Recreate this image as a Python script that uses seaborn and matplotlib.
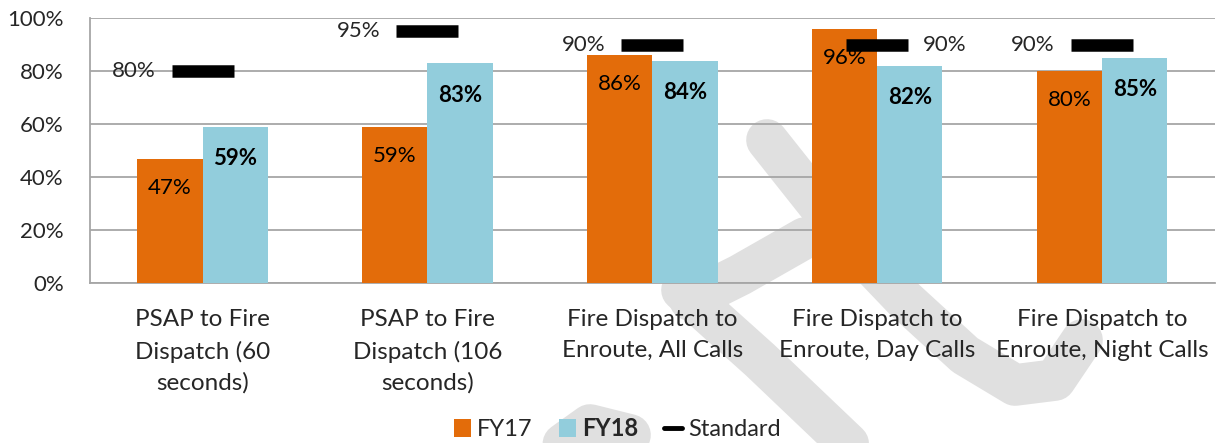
import matplotlib
matplotlib.use("Agg")
import matplotlib.pyplot as plt
import seaborn as sns
import pandas as pd
from matplotlib.patches import Patch
from matplotlib.lines import Line2D

categories = ["PSAP to Fire\nDispatch (60\nseconds)",
              "PSAP to Fire\nDispatch (106\nseconds)",
              "Fire Dispatch to\nEnroute, All Calls",
              "Fire Dispatch to\nEnroute, Day Calls",
              "Fire Dispatch to\nEnroute, Night Calls"]
fy17 = [47, 59, 86, 96, 80]
fy18 = [59, 83, 84, 82, 85]
standard = [80, 95, 90, 90, 90]
std_label_side = ["left", "left", "left", "right", "left"]
y_ticks = [0, 20, 40, 60, 80, 100]

ORANGE = "#E36C0A"
BLUE = "#92CDDC"
GRID = "#A6A6A6"
WATERMARK = "#E0E0E0"

sns.set_style("white")
plt.rcParams["font.family"] = ["Lato", "DejaVu Sans"]

df = pd.DataFrame({
    "cat": categories * 2,
    "val": fy17 + fy18,
    "series": ["FY17"] * 5 + ["FY18"] * 5,
})

W, H = 1217, 443
fig = plt.figure(figsize=(W / 100, H / 100), dpi=100)

# faint background watermark (decorative), in figure pixel space
def fpath(pts):
    return [p[0] / W for p in pts], [1 - p[1] / H for p in pts]

wm_strokes = [
    [(767, 140), (840, 232), (905, 300), (965, 355), (1015, 385), (1055, 380), (1082, 340)],
    [(805, 238), (740, 275), (690, 300)],
    [(682, 290), (760, 360), (865, 460)],
    [(555, 450), (590, 425), (630, 435)],
]
for s in wm_strokes:
    xs_, ys_ = fpath(s)
    fig.add_artist(Line2D(xs_, ys_, transform=fig.transFigure, color=WATERMARK,
                          linewidth=30, solid_capstyle="round",
                          solid_joinstyle="round", zorder=-10))

ax = fig.add_axes([0.074, 0.361, 0.924, 0.598])
ax.patch.set_alpha(0)

sns.barplot(data=df, x="cat", y="val", hue="series", order=categories,
            palette={"FY17": ORANGE, "FY18": BLUE}, width=0.58, gap=0,
            saturation=1, legend=False, ax=ax, zorder=3,
            linewidth=0, edgecolor="none")

# bar labels
for cont, bold, pad in zip(ax.containers, [False, True], [-21, -23]):
    labels = [f"{v:.0f}%" for v in cont.datavalues]
    anns = ax.bar_label(cont, labels=labels, label_type="edge", padding=pad,
                        fontsize=16, fontweight="bold" if bold else "normal",
                        color="black")
    for a in anns:
        a.set_va("center")

# standard markers
xs = list(range(len(categories)))
ax.plot(xs, standard, linestyle="none", marker="_", markersize=45,
        markeredgewidth=9, color="black", zorder=4)
for x, s, side in zip(xs, standard, std_label_side):
    if side == "left":
        ax.annotate(f"{s}%", (x, s), xytext=(-34, 0), textcoords="offset points",
                    ha="right", va="center", fontsize=16, zorder=5)
    else:
        ax.annotate(f"{s}%", (x, s), xytext=(33, 0), textcoords="offset points",
                    ha="left", va="center", fontsize=16, zorder=5)

ax.set_xlim(-0.5, len(categories) - 0.5)
ax.set_ylim(0, 100)
ax.set_yticks(y_ticks)
ax.set_yticklabels([f"{t}%" for t in y_ticks], fontsize=16)
ax.yaxis.grid(True, color=GRID, linewidth=1.3, zorder=0)
ax.set_axisbelow(True)
ax.tick_params(axis="y", length=3, color=GRID, pad=16)

ax.set_xticks(xs)
ax.set_xticklabels(categories, fontsize=17.5, linespacing=1.56)
ax.tick_params(axis="x", length=0, pad=19)
ax.set_xticks([i - 0.5 for i in range(len(categories) + 1)], minor=True)
ax.tick_params(axis="x", which="minor", length=7, color=GRID, width=1.3)
ax.set_xlabel("")
ax.set_ylabel("")

for side in ["top", "right"]:
    ax.spines[side].set_visible(False)
for side in ["left", "bottom"]:
    ax.spines[side].set_color(GRID)
    ax.spines[side].set_linewidth(1.3)

handles = [Patch(facecolor=ORANGE, edgecolor="none"),
           Patch(facecolor=BLUE, edgecolor="none"),
           Line2D([0], [0], color="black", linewidth=3.5)]
leg = fig.legend(handles, ["FY17", "FY18", "Standard"], loc="center",
                 bbox_to_anchor=(0.507, 0.032), ncol=3, frameon=False,
                 fontsize=17, handlelength=0.75, handleheight=0.75,
                 handletextpad=0.25, columnspacing=1.1)
leg.get_texts()[1].set_fontweight("bold")

fig.savefig("out.png", dpi=100)
